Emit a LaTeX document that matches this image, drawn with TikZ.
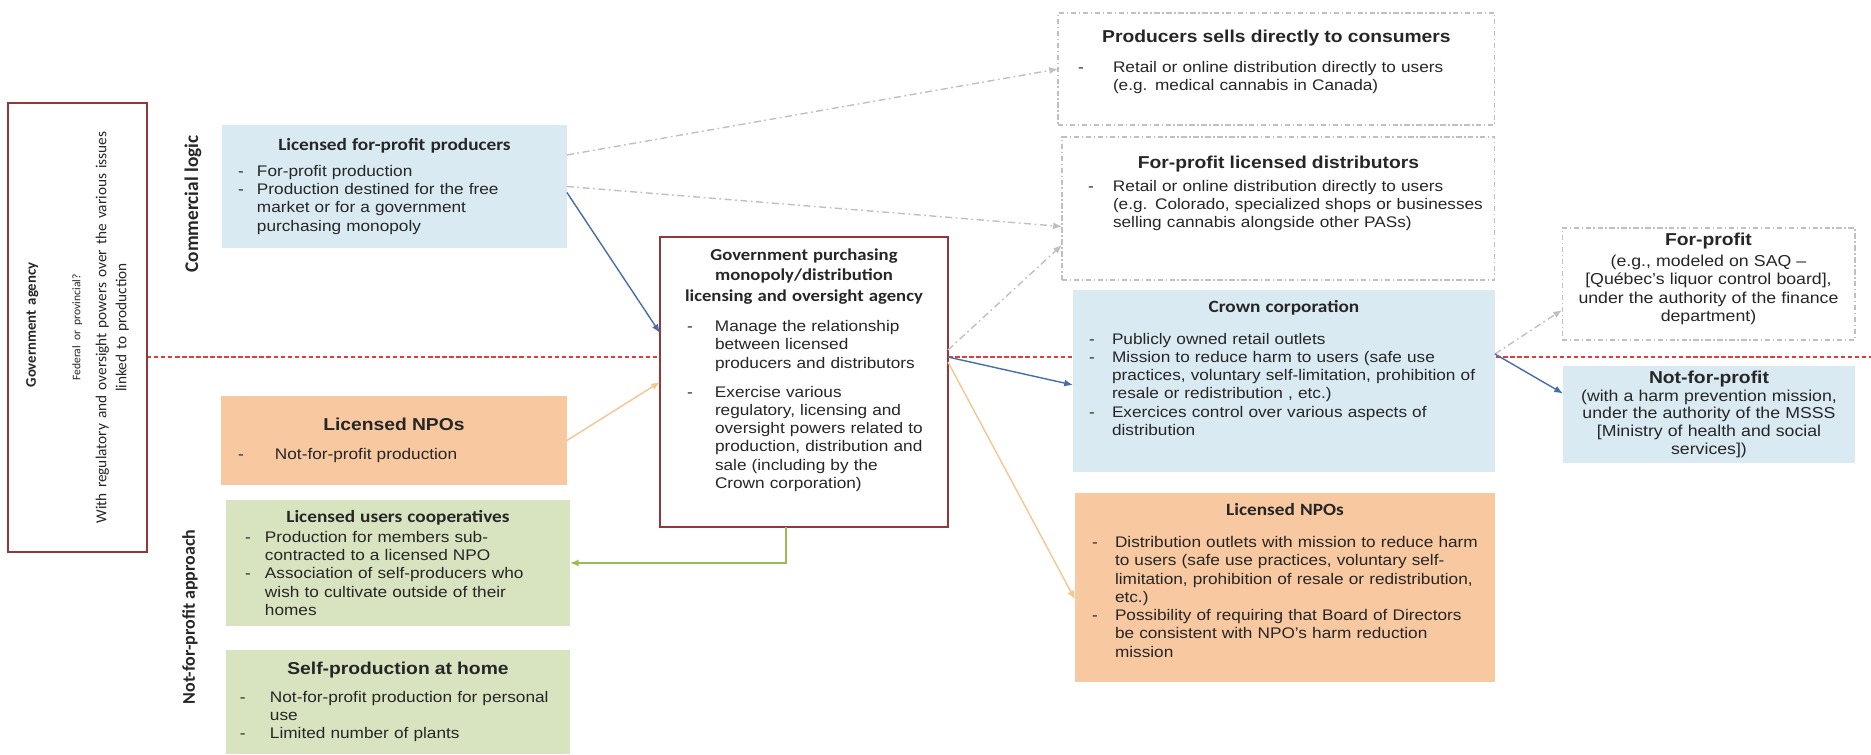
\documentclass[tikz,border=0pt]{standalone}
\usepackage{fontspec}
\setmainfont{Liberation Sans}[FakeStretch=1.12]
\newfontfamily\calibfont{Carlito}[FakeStretch=1.12]
\newfontfamily\calibplain{Carlito}
\usetikzlibrary{arrows.meta,positioning,calc}
\definecolor{boxblue}{RGB}{218,234,242}
\definecolor{boxpeach}{RGB}{248,200,160}
\definecolor{boxgreen}{RGB}{216,228,192}
\definecolor{agencyred}{RGB}{148,54,58}
\definecolor{splitred}{RGB}{228,60,60}
\definecolor{lineblue}{RGB}{70,110,175}
\definecolor{linetan}{RGB}{245,198,145}
\definecolor{linegreen}{RGB}{155,187,89}
\definecolor{linegray}{RGB}{192,192,192}
\newlength\dashin
\newcommand{\bodysize}{\fontsize{8.75}{10.4}\selectfont}
\newcommand{\itm}[2][0.4cm]{\par\hangindent=\dimexpr\dashin+#1\relax\hangafter=1\noindent\hspace*{\dashin}\makebox[#1][l]{-}#2\par}
\newcommand{\ctitle}[2][9.8]{{\centering\calibfont\bfseries\fontsize{#1}{11.7}\selectfont #2\par}}
\newcommand{\atitle}[1]{{\centering\bfseries\fontsize{9.8}{12}\selectfont #1\par}}
\newcommand{\lift}[1]{\par\vspace*{#1}}
\tikzset{
  box/.style={rectangle, anchor=north west, inner xsep=0.1cm, inner ysep=2pt, outer sep=0pt, align=left, font=\bodysize, text=black!85},
  bluebox/.style={box, fill=boxblue},
  peachbox/.style={box, fill=boxpeach},
  greenbox/.style={box, fill=boxgreen},
  optbox/.style={box, fill=white, draw=linegray, line width=0.6pt, dash pattern=on 3pt off 1.5pt on 0.8pt off 1.5pt},
  agencybox/.style={box, fill=white, draw=agencyred, line width=1.3pt},
  sidelabel/.style={rotate=90, inner sep=0pt, text=black!85, font=\calibplain\bfseries\fontsize{11}{13}\selectfont},
  divider/.style={draw=splitred, line width=0.9pt, dash pattern=on 2.5pt off 1.5pt},
  flow/.style={-{Latex[length=5pt,width=4pt]}, line width=0.8pt, draw=lineblue},
  npoflow/.style={-{Latex[length=5pt,width=4pt]}, line width=0.8pt, draw=linetan},
  coopflow/.style={-{Latex[length=5pt,width=4pt]}, line width=0.8pt, draw=linegreen},
  optflow/.style={-{Latex[length=5pt,width=4pt]}, line width=0.8pt, draw=linegray, dash pattern=on 4pt off 2pt on 1pt off 2pt}
}
\begin{document}
\begin{tikzpicture}[x=0.02cm, y=-0.02cm]
  \useasboundingbox (0,0) rectangle (1871,754);

  % split between commercial logic and not-for-profit approach
  \coordinate (split-w) at (147,357);
  \coordinate (split-e) at (1871,357);
  \draw[divider] (split-w) -- (split-e);

  % government agency (left column)
  \node[agencybox, anchor=center, rotate=90, minimum width=8.98cm, minimum height=2.78cm, text width=8.7cm, align=center] (gov) at (77.5,327.5)
    {\calibplain\fontsize{8.7}{11.4}\selectfont\vspace*{6pt}
     {\bfseries\fontsize{8.4}{11.4}\selectfont Government agency}\par\vspace{8pt}
     {\fontsize{6.6}{11.4}\selectfont Federal or provincial?}\par\vspace{3.4pt}
     With regulatory and oversight powers over the various issues\par
     linked to production\par};

  \node[sidelabel] (commercial) at (193,204) {Commercial logic};
  \node[sidelabel, font=\calibplain\bfseries\fontsize{10.2}{12}\selectfont] (nonprofit) at (190,617) {Not-for-profit approach};

  % producers
  \node[bluebox, minimum width=6.9cm, minimum height=2.46cm, text width=6.7cm] (prodfp) at (222,125)
    {\setlength\dashin{0.22cm}%
     \ctitle{Licensed for-profit producers}\vspace{4pt}
     \itm[0.38cm]{For-profit production}
     \itm[0.38cm]{Production destined for the free\newline market or for a government\newline purchasing monopoly}};

  \node[peachbox, minimum width=6.92cm, minimum height=1.78cm, text width=6.72cm] (nposrc) at (221,396)
    {\setlength\dashin{0.24cm}%
     \atitle{Licensed NPOs}\vspace{6pt}
     \itm[0.74cm]{Not-for-profit production}};

  \node[greenbox, minimum width=6.88cm, minimum height=2.52cm, text width=6.68cm] (coop) at (226,500)
    {\setlength\dashin{0.28cm}%
     \ctitle{Licensed users cooperatives}\vspace{1pt}
     \itm[0.4cm]{Production for members sub-\newline contracted to a licensed NPO}
     \itm[0.4cm]{Association of self-producers who\newline wish to cultivate outside of their\newline homes}};

  \node[greenbox, minimum width=6.88cm, minimum height=2.08cm, text width=6.68cm] (selfprod) at (226,650)
    {\setlength\dashin{0.18cm}%
     \atitle{Self-production at home}\vspace{5.5pt}
     \itm[0.6cm]{Not-for-profit production for personal\newline use}
     \itm[0.6cm]{Limited number of plants}};

  % purchasing monopoly / oversight agency
  \node[agencybox, minimum width=5.76cm, minimum height=5.8cm, text width=5.56cm] (agency) at (660,237)
    {\setlength\dashin{0.44cm}%
     \ctitle[9.5]{Government purchasing\\monopoly/distribution\\licensing and oversight agency}\vspace{7pt}
     \itm[0.56cm]{Manage the relationship\newline between licensed\newline producers and distributors}\vspace{6pt}
     \itm[0.56cm]{Exercise various\newline regulatory, licensing and\newline oversight powers related to\newline production, distribution and\newline sale (including by the\newline Crown corporation)}\lift{0.48cm}};

  % distribution
  \node[optbox, minimum width=8.74cm, minimum height=2.24cm, text width=8.54cm] (direct) at (1058,13)
    {\setlength\dashin{0.3cm}%
     \atitle{Producers sells directly to consumers}\vspace{6.6pt}
     \itm[0.7cm]{Retail or online distribution directly to users\newline (e.g. medical cannabis in Canada)}\lift{0.28cm}};

  \node[optbox, minimum width=8.66cm, minimum height=2.86cm, text width=8.46cm] (fpdist) at (1062,137)
    {\setlength\dashin{0.42cm}%
     \atitle{For-profit licensed distributors}\vspace{2.6pt}
     \itm[0.5cm]{Retail or online distribution directly to users\newline (e.g. Colorado, specialized shops or businesses\newline selling cannabis alongside other PASs)}\lift{0.6cm}};

  \node[bluebox, minimum width=8.44cm, minimum height=3.64cm, text width=8.24cm] (crown) at (1073,290)
    {\setlength\dashin{0.22cm}%
     \ctitle{Crown corporation}\vspace{7.6pt}
     \itm[0.46cm]{Publicly owned retail outlets}
     \itm[0.46cm]{Mission to reduce harm to users (safe use\newline practices, voluntary self-limitation, prohibition of\newline resale or redistribution , etc.)}
     \itm[0.46cm]{Exercices control over various aspects of\newline distribution}\lift{0.52cm}};

  \node[peachbox, minimum width=8.4cm, minimum height=3.78cm, text width=8.2cm] (nporet) at (1075,493)
    {\setlength\dashin{0.24cm}%
     \ctitle{Licensed NPOs}\vspace{7.6pt}
     \itm[0.46cm]{Distribution outlets with mission to reduce harm\newline to users (safe use practices, voluntary self-\newline limitation, prohibition of resale or redistribution,\newline etc.)}
     \itm[0.46cm]{Possibility of requiring that Board of Directors\newline be consistent with NPO's harm reduction\newline mission}\lift{0.28cm}};

  % crown corporation options
  \node[optbox, minimum width=5.86cm, minimum height=2.24cm, text width=5.66cm, align=center] (forprofit) at (1562,228)
    {{\bfseries\fontsize{9.8}{12}\selectfont For-profit}\par\vspace{1pt}
     {\fontsize{9}{10.5}\selectfont (e.g., modeled on SAQ --\\ {[}Québec's liquor control board],\\ under the authority of the finance\\ department)}\lift{0.2cm}};

  \node[bluebox, minimum width=5.84cm, minimum height=1.94cm, text width=5.64cm, align=center] (notprofit) at (1563,366)
    {{\bfseries\fontsize{9.8}{11}\selectfont Not-for-profit}\par
     {\fontsize{9}{10}\selectfont (with a harm prevention mission,\\ under the authority of the MSSS\\ {[}Ministry of health and social\\ services])}};

  % connectors
  \draw[optflow] ($(prodfp.north east)+(0,30)$) -- (direct.west);
  \draw[optflow] (prodfp.east) -- ($(fpdist.west)+(0,18)$);
  \draw[flow] ($(prodfp.east)+(0,6)$) -- ($(agency.north west)+(0,96)$);
  \draw[npoflow] (nposrc.east) -- (agency.west);
  \draw[optflow] ($(agency.north east)+(0,113)$) -- ($(fpdist.south west)+(0,-35)$);
  \draw[flow] ($(agency.north east)+(0,120)$) -- ($(crown.west)+(0,4)$);
  \draw[npoflow] ($(agency.north east)+(0,125)$) -- ($(nporet.west)+(0,12)$);
  \draw[optflow] ($(crown.east)+(0,-27)$) -- ($(forprofit.west)+(0,26)$);
  \draw[flow] ($(crown.east)+(0,-27)$) -- ($(notprofit.west)+(0,-21)$);
  \draw[coopflow] ($(agency.south west)+(126,0)$) |- (coop.east);
\end{tikzpicture}
\end{document}
